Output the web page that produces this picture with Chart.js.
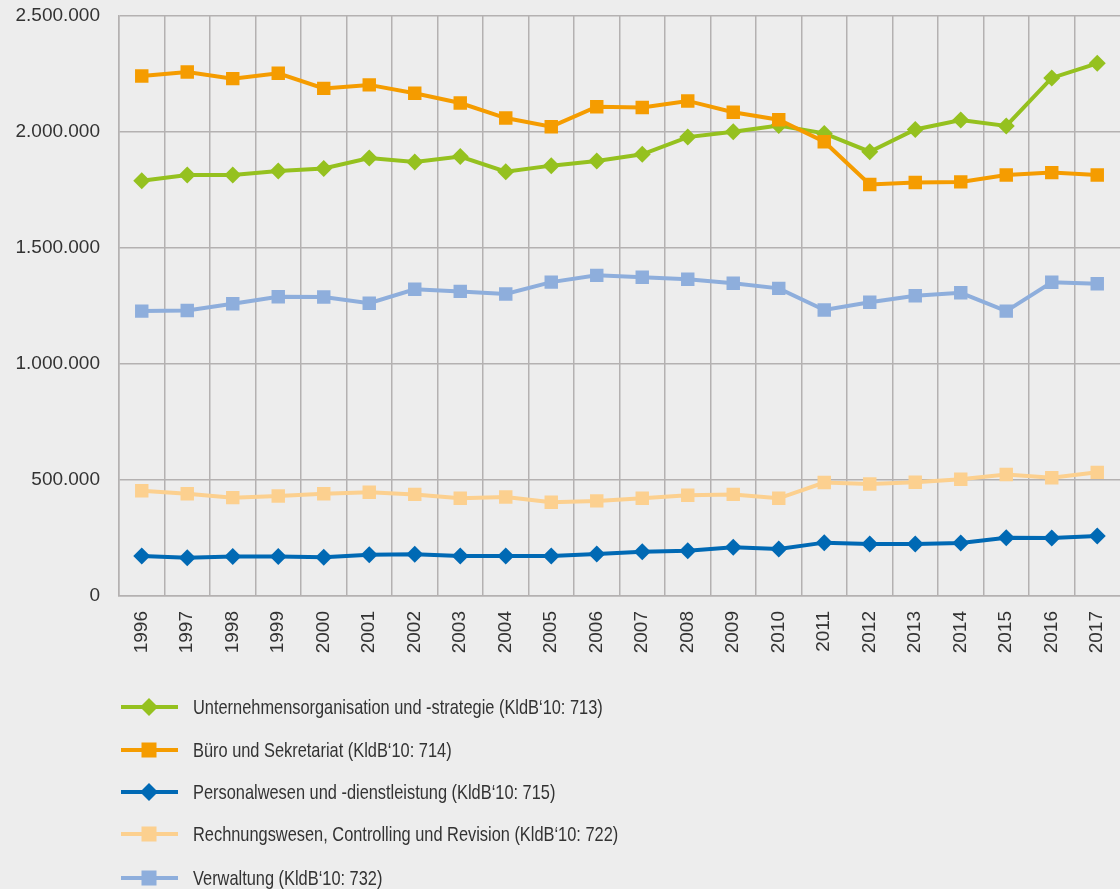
<!DOCTYPE html>
<html>
<head>
<meta charset="utf-8">
<script src="https://cdn.jsdelivr.net/npm/chart.js@4.4.1/dist/chart.umd.min.js"></script>
<style>
  html, body { margin: 0; padding: 0; background: #ededed; }
  #wrap { position: relative; width: 1120px; height: 889px; overflow: hidden; }
  #chart { position: absolute; left: 0; top: 0; }
  #legend { position: absolute; left: 0; top: 0; width: 1120px; height: 889px; pointer-events: none; }
  .li { position: absolute; left: 121px; height: 30px; display: flex; align-items: center;
        font-family: "Liberation Sans", sans-serif; font-size: 21px; color: #333; white-space: nowrap; }
  .li svg { display: block; margin-right: 15px; flex: none; }
  .li span { display: inline-block; transform: scaleX(0.78); transform-origin: 0 50%; }
</style>
</head>
<body>
<div id="wrap">
  <canvas id="chart" width="1120" height="889"></canvas>
  <div id="legend"></div>
</div>
<script>
const years = ["1996","1997","1998","1999","2000","2001","2002","2003","2004","2005","2006","2007","2008","2009","2010","2011","2012","2013","2014","2015","2016","2017"];

const unternehmensorganisation = [1790000,1815000,1815000,1832000,1843000,1888000,1871000,1894000,1829000,1855000,1875000,1904000,1978000,2001000,2028000,1994000,1915000,2011000,2052000,2026000,2233000,2296000];
const bueroSekretariat = [2241000,2259000,2230000,2253000,2188000,2203000,2167000,2125000,2060000,2023000,2109000,2106000,2134000,2085000,2053000,1958000,1774000,1782000,1785000,1815000,1825000,1815000];
const personalwesen = [172000,165000,170000,170000,167000,178000,180000,172000,172000,172000,181000,191000,195000,210000,203000,230000,224000,224000,228000,251000,250000,259000];
const rechnungswesen = [454000,441000,424000,431000,441000,447000,438000,421000,427000,404000,410000,421000,434000,438000,421000,489000,483000,490000,503000,524000,510000,533000];
const verwaltung = [1228000,1231000,1260000,1290000,1289000,1262000,1322000,1313000,1302000,1353000,1382000,1374000,1365000,1348000,1326000,1233000,1266000,1294000,1307000,1228000,1352000,1346000];

const seriesLabels = [
  "Unternehmensorganisation und -strategie (KldB‘10: 713)",
  "Büro und Sekretariat (KldB‘10: 714)",
  "Personalwesen und -dienstleistung (KldB‘10: 715)",
  "Rechnungswesen, Controlling und Revision (KldB‘10: 722)",
  "Verwaltung (KldB‘10: 732)"
];
const yMin = 0, yMax = 2500000, yStep = 500000;

const colors = ["#95c11f", "#f59c00", "#0069b4", "#fcd08f", "#8eaedc"];
const styles = ["rectRot", "rect", "rectRot", "rect", "rect"];
const seriesData = [unternehmensorganisation, bueroSekretariat, personalwesen, rechnungswesen, verwaltung];
const orders = [5, 4, 3, 2, 1];

function fmt(v) { return String(v).replace(/\B(?=(\d{3})+(?!\d))/g, "."); }

const datasets = seriesData.map((d, i) => ({
  label: seriesLabels[i],
  data: d,
  borderColor: colors[i],
  backgroundColor: colors[i],
  pointBackgroundColor: colors[i],
  pointBorderColor: colors[i],
  pointBorderWidth: 0,
  pointStyle: styles[i],
  pointRadius: styles[i] === "rect" ? 9.5 : 8.5,
  borderWidth: 4,
  tension: 0,
  order: orders[i]
}));

const gridColor = "#b4b1b1";
const tickFont = { family: "'Liberation Sans', sans-serif", size: 19 };

new Chart(document.getElementById("chart"), {
  type: "line",
  data: { labels: years, datasets },
  options: {
    responsive: false,
    animation: false,
    layout: { autoPadding: false, padding: { left: 0, top: 16, right: 0, bottom: 223 } },
    plugins: { legend: { display: false }, tooltip: { enabled: false } },
    scales: {
      x: {
        offset: true,
        grid: {
          offset: true,
          color: (ctx) => (ctx.type === "tick" ? gridColor : "rgba(0,0,0,0)"),
          lineWidth: 1.5, drawTicks: true, tickLength: 15, tickColor: "rgba(0,0,0,0)"
        },
        border: { color: gridColor, width: 1.5 },
        ticks: { minRotation: 90, maxRotation: 90, padding: 0, color: "#333", font: tickFont, autoSkip: false },
        afterFit(scale) { scale.height = 70; scale.paddingLeft = 0; scale.paddingRight = 0; }
      },
      y: {
        min: yMin, max: yMax,
        grid: { color: gridColor, lineWidth: 1.5, drawTicks: false },
        border: { color: gridColor, width: 1.5 },
        ticks: { stepSize: yStep, padding: 19, color: "#333", font: tickFont, callback: (v) => fmt(v) },
        afterFit(scale) { scale.width = 119; scale.paddingTop = 0; scale.paddingBottom = 0; }
      }
    }
  }
});

// HTML legend built from the datasets
const legendTops = [707, 750, 792, 834, 878];
const lg = document.getElementById("legend");
datasets.forEach((ds, i) => {
  const row = document.createElement("div");
  row.className = "li";
  row.style.top = (legendTops[i] - 15) + "px";
  let marker;
  if (ds.pointStyle === "rectRot") {
    marker = `<polygon points="28,6 37,15 28,24 19,15" fill="${ds.borderColor}"/>`;
  } else {
    marker = `<rect x="20.5" y="7.5" width="15" height="15" fill="${ds.borderColor}"/>`;
  }
  row.innerHTML = `<svg width="57" height="30" viewBox="0 0 57 30"><rect x="0" y="13" width="57" height="4" fill="${ds.borderColor}"/>${marker}</svg><span>${ds.label}</span>`;
  lg.appendChild(row);
});
</script>
</body>
</html>
